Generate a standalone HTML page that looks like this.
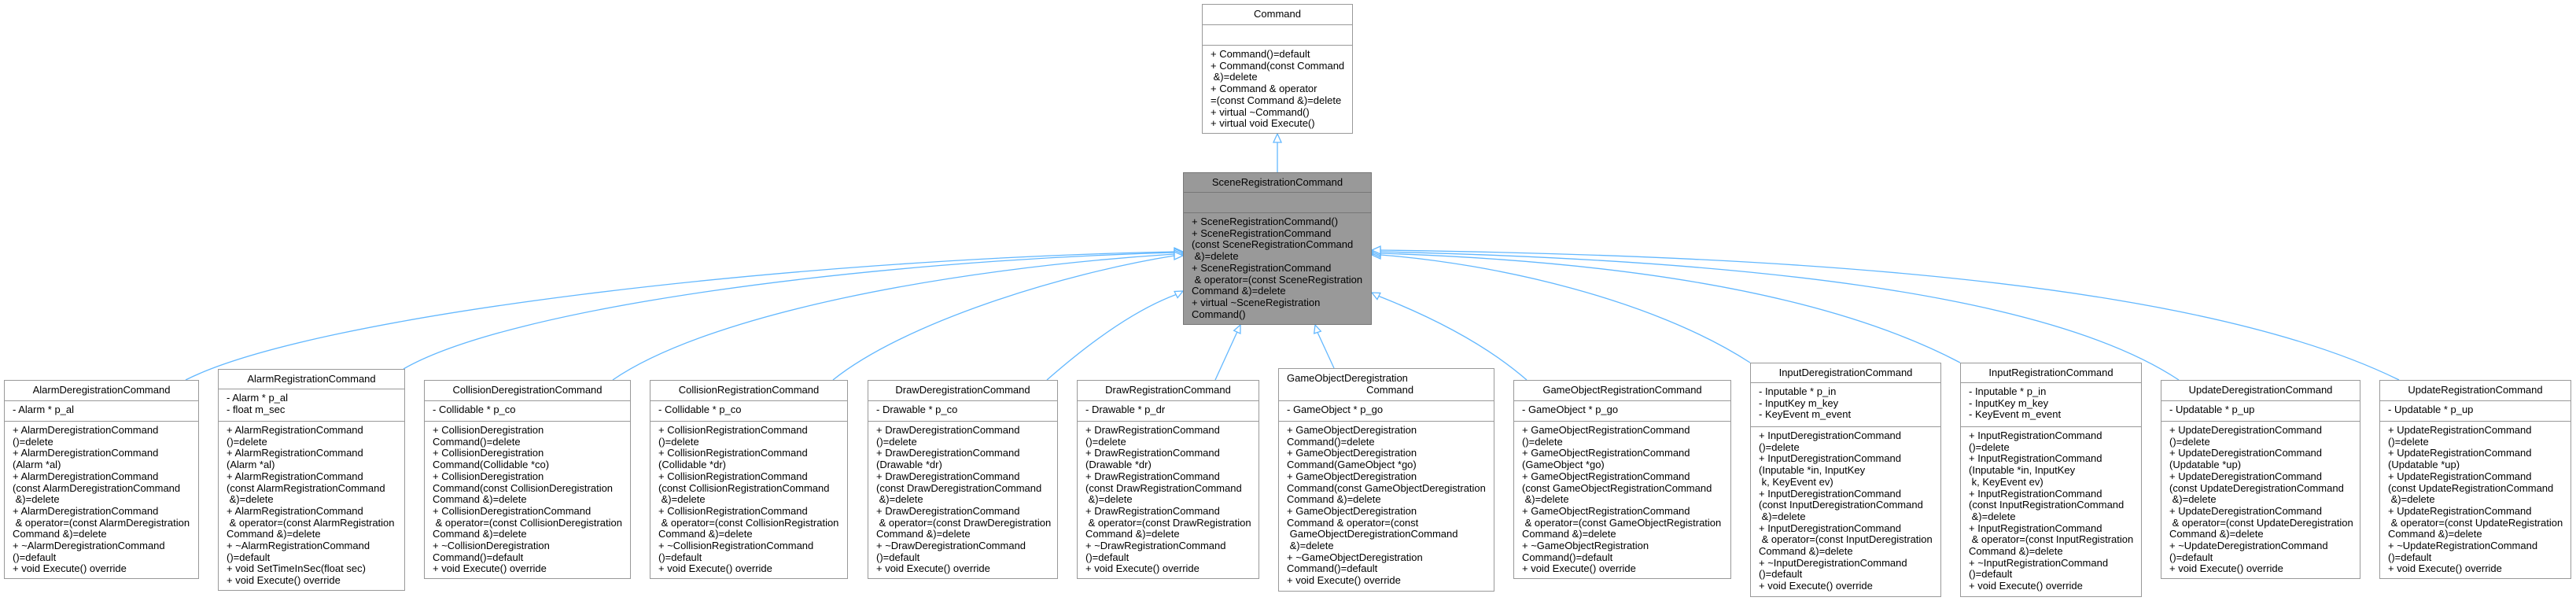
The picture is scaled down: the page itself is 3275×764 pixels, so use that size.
<!DOCTYPE html>
<html><head><meta charset="utf-8">
<style>
html,body{margin:0;padding:0;background:#fff;}
body{width:3275px;height:764px;position:relative;overflow:hidden;font-family:"Liberation Sans",Arial,sans-serif;font-size:13px;color:#000;}
.box{position:absolute;border:1px solid #999;background:#fff;box-sizing:border-box;display:flex;flex-direction:column;}
.box.scene{background:#999;border-color:#777;}
.sec{box-sizing:border-box;border-bottom:1px solid #999;white-space:pre;line-height:14.7px;overflow:hidden;}
.scene .sec{border-color:#777;}
.t{text-align:center;padding-top:5px;}
.a,.m{padding:4px 0 0 10px;}
.m{border-bottom:none;flex:1;}
svg{position:absolute;left:0;top:0;}
</style></head><body>
<svg width="3275" height="764" viewBox="0 0 3275 764">
<g fill="none" stroke="#63b8ff" stroke-width="1.3">
<path d="M1624,219 L1624,181"/>
<path d="M236,483 C400,400 1000,330 1493,320"/>
<path d="M513,469 C650,390 1100,332 1493,321"/>
<path d="M779,483 C900,400 1200,342 1493,323"/>
<path d="M1059,483 C1150,410 1350,348 1493,325"/>
<path d="M1331,483 C1380,440 1440,395 1495,374.5"/>
<path d="M1545,483 L1572.8,422.1"/>
<path d="M1696,468 L1675,422.5"/>
<path d="M1941,483 C1880,430 1800,395 1752.9,376.5"/>
<path d="M2225,461 C2100,380 1900,335 1755,324"/>
<path d="M2492,461 C2300,360 2000,330 1755,322"/>
<path d="M2770,483 C2600,370 2200,330 1755,320"/>
<path d="M3050,483 C2800,360 2300,325 1755,318"/>
</g>
<g fill="#fff" stroke="#63b8ff" stroke-width="1.3">
<polygon points="1624,170 1619,181 1629,181"/>
<polygon points="1504,320 1493,315 1493,325"/>
<polygon points="1504,321 1493,316 1493,326"/>
<polygon points="1504,323 1493,318 1493,328"/>
<polygon points="1504,325 1493,320 1493,330"/>
<polygon points="1504,370 1497.1,378.5 1493.1,370.5"/>
<polygon points="1577,413 1576.9,424 1568.7,420.2"/>
<polygon points="1672,413 1679.3,421.1 1670.7,423.9"/>
<polygon points="1744,372 1754.9,372.5 1750.9,380.5"/>
<polygon points="1744,324 1755,319 1755,329"/>
<polygon points="1744,322 1755,317 1755,327"/>
<polygon points="1744,320 1755,315 1755,325"/>
<polygon points="1744,318 1755,313 1755,323"/>
</g>
</svg>

<div class="box" style="left:1528px;top:5px;width:192px;height:165px;">
<div class="sec t" style="height:26px">Command</div>
<div class="sec a" style="height:26px"></div>
<div class="sec m">+ Command()=default
+ Command(const Command
 &amp;)=delete
+ Command &amp; operator
=(const Command &amp;)=delete
+ virtual ~Command()
+ virtual void Execute()</div>
</div>

<div class="box scene" style="left:1504px;top:219px;width:240px;height:194px;">
<div class="sec t" style="height:25px">SceneRegistrationCommand</div>
<div class="sec a" style="height:26px"></div>
<div class="sec m">+ SceneRegistrationCommand()
+ SceneRegistrationCommand
(const SceneRegistrationCommand
 &amp;)=delete
+ SceneRegistrationCommand
 &amp; operator=(const SceneRegistration
Command &amp;)=delete
+ virtual ~SceneRegistration
Command()</div>
</div>

<div class="box" style="left:5px;top:483px;width:248px;height:253px;">
<div class="sec t" style="height:26px">AlarmDeregistrationCommand</div>
<div class="sec a" style="height:26px">- Alarm * p_al</div>
<div class="sec m">+ AlarmDeregistrationCommand
()=delete
+ AlarmDeregistrationCommand
(Alarm *al)
+ AlarmDeregistrationCommand
(const AlarmDeregistrationCommand
 &amp;)=delete
+ AlarmDeregistrationCommand
 &amp; operator=(const AlarmDeregistration
Command &amp;)=delete
+ ~AlarmDeregistrationCommand
()=default
+ void Execute() override</div>
</div>

<div class="box" style="left:277px;top:469px;width:238px;height:282px;">
<div class="sec t" style="height:25px">AlarmRegistrationCommand</div>
<div class="sec a" style="height:41px">- Alarm * p_al
- float m_sec</div>
<div class="sec m">+ AlarmRegistrationCommand
()=delete
+ AlarmRegistrationCommand
(Alarm *al)
+ AlarmRegistrationCommand
(const AlarmRegistrationCommand
 &amp;)=delete
+ AlarmRegistrationCommand
 &amp; operator=(const AlarmRegistration
Command &amp;)=delete
+ ~AlarmRegistrationCommand
()=default
+ void SetTimeInSec(float sec)
+ void Execute() override</div>
</div>

<div class="box" style="left:539px;top:483px;width:263px;height:253px;">
<div class="sec t" style="height:26px">CollisionDeregistrationCommand</div>
<div class="sec a" style="height:26px">- Collidable * p_co</div>
<div class="sec m">+ CollisionDeregistration
Command()=delete
+ CollisionDeregistration
Command(Collidable *co)
+ CollisionDeregistration
Command(const CollisionDeregistration
Command &amp;)=delete
+ CollisionDeregistrationCommand
 &amp; operator=(const CollisionDeregistration
Command &amp;)=delete
+ ~CollisionDeregistration
Command()=default
+ void Execute() override</div>
</div>

<div class="box" style="left:826px;top:483px;width:252px;height:253px;">
<div class="sec t" style="height:26px">CollisionRegistrationCommand</div>
<div class="sec a" style="height:26px">- Collidable * p_co</div>
<div class="sec m">+ CollisionRegistrationCommand
()=delete
+ CollisionRegistrationCommand
(Collidable *dr)
+ CollisionRegistrationCommand
(const CollisionRegistrationCommand
 &amp;)=delete
+ CollisionRegistrationCommand
 &amp; operator=(const CollisionRegistration
Command &amp;)=delete
+ ~CollisionRegistrationCommand
()=default
+ void Execute() override</div>
</div>

<div class="box" style="left:1103px;top:483px;width:242px;height:253px;">
<div class="sec t" style="height:26px">DrawDeregistrationCommand</div>
<div class="sec a" style="height:26px">- Drawable * p_co</div>
<div class="sec m">+ DrawDeregistrationCommand
()=delete
+ DrawDeregistrationCommand
(Drawable *dr)
+ DrawDeregistrationCommand
(const DrawDeregistrationCommand
 &amp;)=delete
+ DrawDeregistrationCommand
 &amp; operator=(const DrawDeregistration
Command &amp;)=delete
+ ~DrawDeregistrationCommand
()=default
+ void Execute() override</div>
</div>

<div class="box" style="left:1369px;top:483px;width:232px;height:253px;">
<div class="sec t" style="height:26px">DrawRegistrationCommand</div>
<div class="sec a" style="height:26px">- Drawable * p_dr</div>
<div class="sec m">+ DrawRegistrationCommand
()=delete
+ DrawRegistrationCommand
(Drawable *dr)
+ DrawRegistrationCommand
(const DrawRegistrationCommand
 &amp;)=delete
+ DrawRegistrationCommand
 &amp; operator=(const DrawRegistration
Command &amp;)=delete
+ ~DrawRegistrationCommand
()=default
+ void Execute() override</div>
</div>

<div class="box" style="left:1625px;top:468px;width:275px;height:284px;">
<div class="sec t" style="height:41px;text-align:left;padding-left:10px">GameObjectDeregistration
                            Command</div>
<div class="sec a" style="height:26px">- GameObject * p_go</div>
<div class="sec m">+ GameObjectDeregistration
Command()=delete
+ GameObjectDeregistration
Command(GameObject *go)
+ GameObjectDeregistration
Command(const GameObjectDeregistration
Command &amp;)=delete
+ GameObjectDeregistration
Command &amp; operator=(const
 GameObjectDeregistrationCommand
 &amp;)=delete
+ ~GameObjectDeregistration
Command()=default
+ void Execute() override</div>
</div>

<div class="box" style="left:1924px;top:483px;width:277px;height:253px;">
<div class="sec t" style="height:26px">GameObjectRegistrationCommand</div>
<div class="sec a" style="height:26px">- GameObject * p_go</div>
<div class="sec m">+ GameObjectRegistrationCommand
()=delete
+ GameObjectRegistrationCommand
(GameObject *go)
+ GameObjectRegistrationCommand
(const GameObjectRegistrationCommand
 &amp;)=delete
+ GameObjectRegistrationCommand
 &amp; operator=(const GameObjectRegistration
Command &amp;)=delete
+ ~GameObjectRegistration
Command()=default
+ void Execute() override</div>
</div>

<div class="box" style="left:2225px;top:461px;width:243px;height:298px;">
<div class="sec t" style="height:25px">InputDeregistrationCommand</div>
<div class="sec a" style="height:56px">- Inputable * p_in
- InputKey m_key
- KeyEvent m_event</div>
<div class="sec m">+ InputDeregistrationCommand
()=delete
+ InputDeregistrationCommand
(Inputable *in, InputKey
 k, KeyEvent ev)
+ InputDeregistrationCommand
(const InputDeregistrationCommand
 &amp;)=delete
+ InputDeregistrationCommand
 &amp; operator=(const InputDeregistration
Command &amp;)=delete
+ ~InputDeregistrationCommand
()=default
+ void Execute() override</div>
</div>

<div class="box" style="left:2492px;top:461px;width:231px;height:298px;">
<div class="sec t" style="height:25px">InputRegistrationCommand</div>
<div class="sec a" style="height:56px">- Inputable * p_in
- InputKey m_key
- KeyEvent m_event</div>
<div class="sec m">+ InputRegistrationCommand
()=delete
+ InputRegistrationCommand
(Inputable *in, InputKey
 k, KeyEvent ev)
+ InputRegistrationCommand
(const InputRegistrationCommand
 &amp;)=delete
+ InputRegistrationCommand
 &amp; operator=(const InputRegistration
Command &amp;)=delete
+ ~InputRegistrationCommand
()=default
+ void Execute() override</div>
</div>

<div class="box" style="left:2747px;top:483px;width:254px;height:253px;">
<div class="sec t" style="height:26px">UpdateDeregistrationCommand</div>
<div class="sec a" style="height:26px">- Updatable * p_up</div>
<div class="sec m">+ UpdateDeregistrationCommand
()=delete
+ UpdateDeregistrationCommand
(Updatable *up)
+ UpdateDeregistrationCommand
(const UpdateDeregistrationCommand
 &amp;)=delete
+ UpdateDeregistrationCommand
 &amp; operator=(const UpdateDeregistration
Command &amp;)=delete
+ ~UpdateDeregistrationCommand
()=default
+ void Execute() override</div>
</div>

<div class="box" style="left:3025px;top:483px;width:244px;height:253px;">
<div class="sec t" style="height:26px">UpdateRegistrationCommand</div>
<div class="sec a" style="height:26px">- Updatable * p_up</div>
<div class="sec m">+ UpdateRegistrationCommand
()=delete
+ UpdateRegistrationCommand
(Updatable *up)
+ UpdateRegistrationCommand
(const UpdateRegistrationCommand
 &amp;)=delete
+ UpdateRegistrationCommand
 &amp; operator=(const UpdateRegistration
Command &amp;)=delete
+ ~UpdateRegistrationCommand
()=default
+ void Execute() override</div>
</div>

</body></html>
